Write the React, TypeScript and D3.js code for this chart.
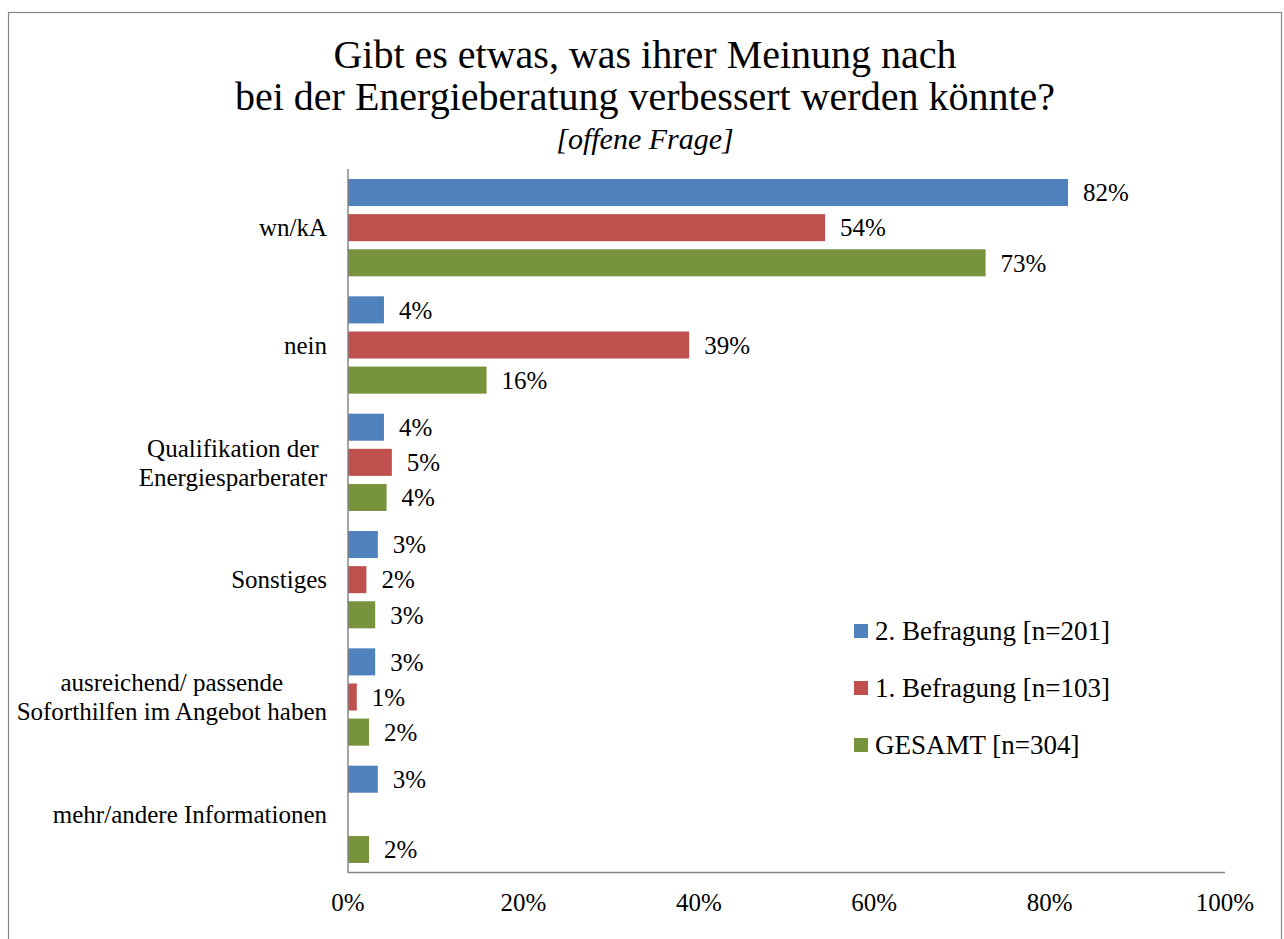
import React from "react";
import * as d3 from "d3";

const categories = [
  "wn/kA",
  "nein",
  "Qualifikation der\nEnergiesparberater",
  "Sonstiges",
  "ausreichend/ passende\nSoforthilfen im Angebot haben",
  "mehr/andere Informationen",
];
const seriesNames = ["2. Befragung [n=201]", "1. Befragung [n=103]", "GESAMT [n=304]"];
const seriesColors = ["#4F81BD", "#C0504D", "#77933C"];
const befragung2 = [0.821, 0.041, 0.041, 0.034, 0.031, 0.034];
const befragung1 = [0.544, 0.389, 0.05, 0.021, 0.01, null];
const gesamt = [0.727, 0.158, 0.044, 0.031, 0.024, 0.024];
const xTicks = [0, 0.2, 0.4, 0.6, 0.8, 1.0];

const W = 1284;
const H = 939;
const FONT = "'Liberation Serif', 'Times New Roman', serif";

export default function App() {
  const series = [befragung2, befragung1, gesamt];
  const x = d3.scaleLinear().domain([0, 1]).range([348, 1225]);
  const y = d3
    .scaleBand<string>()
    .domain(categories)
    .range([169, 873])
    .paddingInner(0)
    .paddingOuter(0);
  const inner = d3
    .scaleBand<number>()
    .domain([0, 1, 2])
    .range([10, y.bandwidth() - 10])
    .paddingInner(0.23)
    .paddingOuter(0);
  const fmt = d3.format(".0%");
  const axisColor = "#868686";

  return (
    <svg
      width={W}
      height={H}
      style={{ position: "absolute", left: 0, top: 0, background: "#fff" }}
      fontFamily={FONT}
    >
      <rect x={8.5} y={12.5} width={1273} height={940} fill="#fff" stroke={axisColor} strokeWidth={1.2} />
      <text x={645} y={68} textAnchor="middle" fontSize={40} fill="#000">
        Gibt es etwas, was ihrer Meinung nach
      </text>
      <text x={645} y={110} textAnchor="middle" fontSize={40} fill="#000">
        bei der Energieberatung verbessert werden könnte?
      </text>
      <text x={645} y={149} textAnchor="middle" fontSize={30} fontStyle="italic" fill="#000">
        [offene Frage]
      </text>

      {categories.map((c, ci) => (
        <g key={c}>
          {series.map((s, si) => {
            const v = s[ci];
            if (v === null) return null;
            const by = (y(c) as number) + (inner(si) as number);
            const bh = inner.bandwidth();
            return (
              <g key={si}>
                <rect x={x(0)} y={by} width={x(v) - x(0)} height={bh} fill={seriesColors[si]} />
                <text
                  x={x(v) + 15}
                  y={by + bh / 2}
                  dy="0.35em"
                  fontSize={25}
                  fill="#000"
                >
                  {fmt(v)}
                </text>
              </g>
            );
          })}
          {(() => {
            const lines = c.split("\n");
            const cy = (y(c) as number) + y.bandwidth() / 2;
            if (lines.length === 1) {
              return (
                <text x={327} y={cy} dy="0.35em" textAnchor="end" fontSize={25} fill="#000">
                  {c}
                </text>
              );
            }
            return (
              <CenteredLines lines={lines} right={327} cy={cy} />
            );
          })()}
        </g>
      ))}

      <line x1={x(0)} x2={x(0)} y1={169} y2={873} stroke={axisColor} strokeWidth={1.5} />
      <line x1={x(0)} x2={x(1)} y1={872.5} y2={872.5} stroke={axisColor} strokeWidth={1.5} />
      {xTicks.map((t) => (
        <text key={t} x={x(t)} y={902} dy="0.35em" textAnchor="middle" fontSize={25} fill="#000">
          {fmt(t)}
        </text>
      ))}

      {seriesNames.map((n, i) => (
        <g key={n} transform={`translate(854, ${631 + i * 57})`}>
          <rect x={0} y={-7} width={14} height={14} fill={seriesColors[i]} />
          <text x={21} y={0} dy="0.35em" fontSize={27} fill="#000">
            {n}
          </text>
        </g>
      ))}
    </svg>
  );
}

function CenteredLines({ lines, right, cy }: { lines: string[]; right: number; cy: number }) {
  const ref = React.useRef<SVGGElement>(null);
  const [cx, setCx] = React.useState<number | null>(null);
  React.useLayoutEffect(() => {
    if (!ref.current) return;
    const texts = Array.from(ref.current.querySelectorAll("text")) as SVGTextElement[];
    const maxW = d3.max(texts, (t) => t.getComputedTextLength()) || 0;
    setCx(right - maxW / 2);
  }, [right]);
  const spacing = 29;
  return (
    <g ref={ref}>
      {lines.map((l, i) => (
        <text
          key={i}
          x={cx ?? right}
          y={cy + (i - (lines.length - 1) / 2) * spacing}
          dy="0.35em"
          textAnchor={cx === null ? "end" : "middle"}
          fontSize={25}
          fill="#000"
        >
          {l}
        </text>
      ))}
    </g>
  );
}
